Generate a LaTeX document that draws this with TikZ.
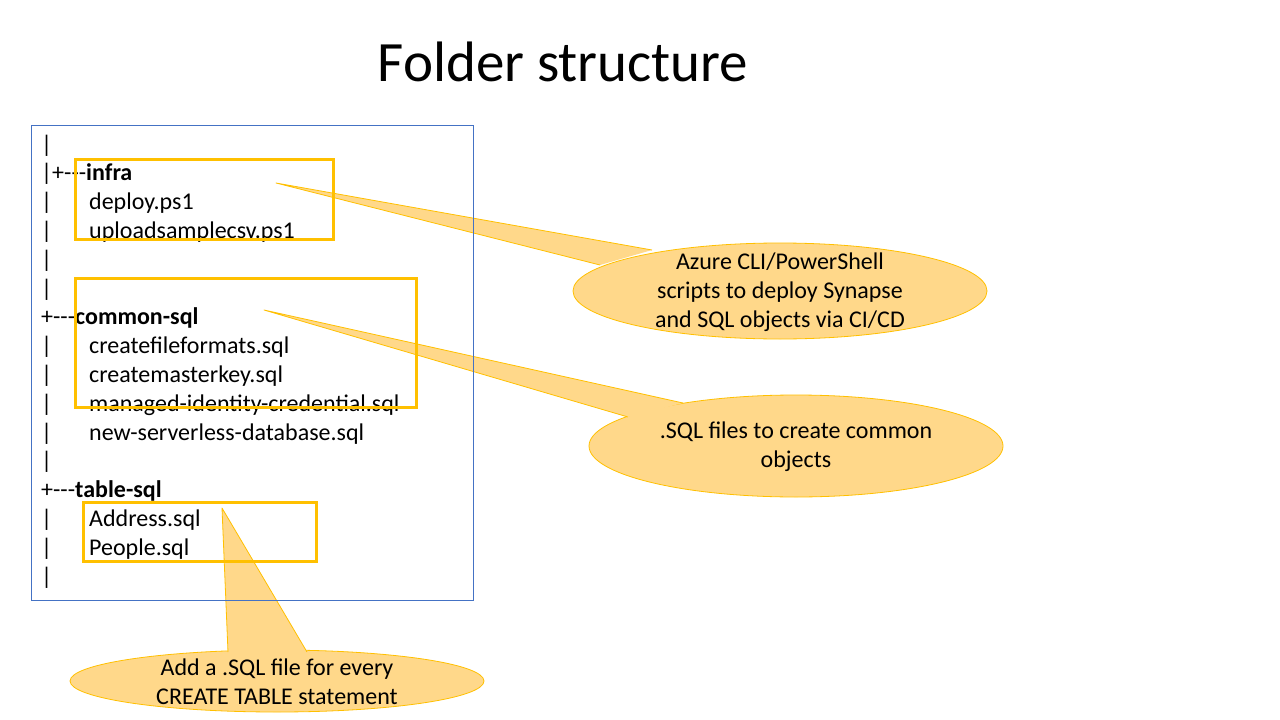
\documentclass[tikz,border=0pt]{standalone}
\usepackage{fontspec}
\setmainfont{Carlito}
\definecolor{gold}{HTML}{FFC000}
\definecolor{callfill}{RGB}{255,216,138}
\definecolor{boxblue}{HTML}{4472C4}
\newcommand\fitem[1]{\makebox[48pt][l]{|}#1}
\begin{document}
\begin{tikzpicture}[x=1pt,y=-1pt,
  row/.style={anchor=base west,inner sep=0pt,font=\fontsize{24}{29}\selectfont},
  hilite/.style={draw=gold,line width=3pt},
  treebox/.style={draw=boxblue,line width=1pt},
  callbody/.style={fill=callfill,draw=gold,line width=0.8pt},
  callptr/.style={fill=callfill},
  calledge/.style={draw=gold,line width=0.8pt,line join=round},
  calltext/.style={align=center,inner sep=0pt,font=\fontsize{24}{29}\selectfont}]
\fill[white] (0,0) rectangle (1280,720);
\useasboundingbox (0,0) rectangle (1280,720);

% title
\node[anchor=base,inner sep=0pt,font=\fontsize{57}{68}\selectfont] (title) at (563,81) {Folder structure};

% callout 1
\coordinate (t1) at (276,183);
\coordinate (a1) at (652,250);
\coordinate (b1) at (600,265);
\draw[callbody] (780,291) ellipse [x radius=207pt, y radius=48pt];
\fill[callptr] (t1) -- (a1) -- (b1) -- cycle;
\draw[calledge] (a1) -- (t1) -- (b1);
\node[calltext] (c1) at (780,292) {Azure CLI/PowerShell\\scripts to deploy Synapse\\and SQL objects via CI/CD};

% callout 2
\coordinate (t2) at (264,310);
\coordinate (a2) at (683,403);
\coordinate (b2) at (628,417);
\draw[callbody] (796,446) ellipse [x radius=207pt, y radius=51pt];
\fill[callptr] (t2) -- (a2) -- (b2) -- cycle;
\draw[calledge] (a2) -- (t2) -- (b2);
\node[calltext] (c2) at (796,447) {.SQL files to create common\\objects};

% callout 3
\coordinate (t3) at (222,508);
\coordinate (a3) at (228,652);
\coordinate (b3) at (307,652);
\draw[callbody] (277,681) ellipse [x radius=207pt, y radius=31pt];
\fill[callptr] (t3) -- (a3) -- (b3) -- cycle;
\draw[calledge] (a3) -- (t3) -- (b3);
\node[calltext] (c3) at (277,682) {Add a .SQL file for every\\CREATE TABLE statement};

% tree box
\draw[treebox] (31,125) rectangle (473,600);

% tree rows
\node[row] (r0) at (41,152.0) {|};
\node[row] (r1) at (41,180.8) {|+-{}-{}-\textbf{infra}};
\node[row] (r2) at (41,209.6) {\fitem{deploy.ps1}};
\node[row] (r3) at (41,238.4) {\fitem{uploadsamplecsv.ps1}};
\node[row] (r4) at (41,267.2) {|};
\node[row] (r5) at (41,296.0) {|};
\node[row] (r6) at (41,324.8) {+-{}-{}-\textbf{common-sql}};
\node[row] (r7) at (41,353.6) {\fitem{createfileformats.sql}};
\node[row] (r8) at (41,382.4) {\fitem{createmasterkey.sql}};
\node[row] (r9) at (41,411.2) {\fitem{managed-identity-credential.sql}};
\node[row] (r10) at (41,440.0) {\fitem{new-serverless-database.sql}};
\node[row] (r11) at (41,468.8) {|};
\node[row] (r12) at (41,497.6) {+-{}-{}-\textbf{table-sql}};
\node[row] (r13) at (41,526.4) {\fitem{Address.sql}};
\node[row] (r14) at (41,555.2) {\fitem{People.sql}};
\node[row] (r15) at (41,584.0) {|};

% highlight boxes
\draw[hilite] (75,159) rectangle (333,239);
\draw[hilite] (75,278) rectangle (416,407);
\draw[hilite] (83,502) rectangle (316,561);
\end{tikzpicture}
\end{document}
